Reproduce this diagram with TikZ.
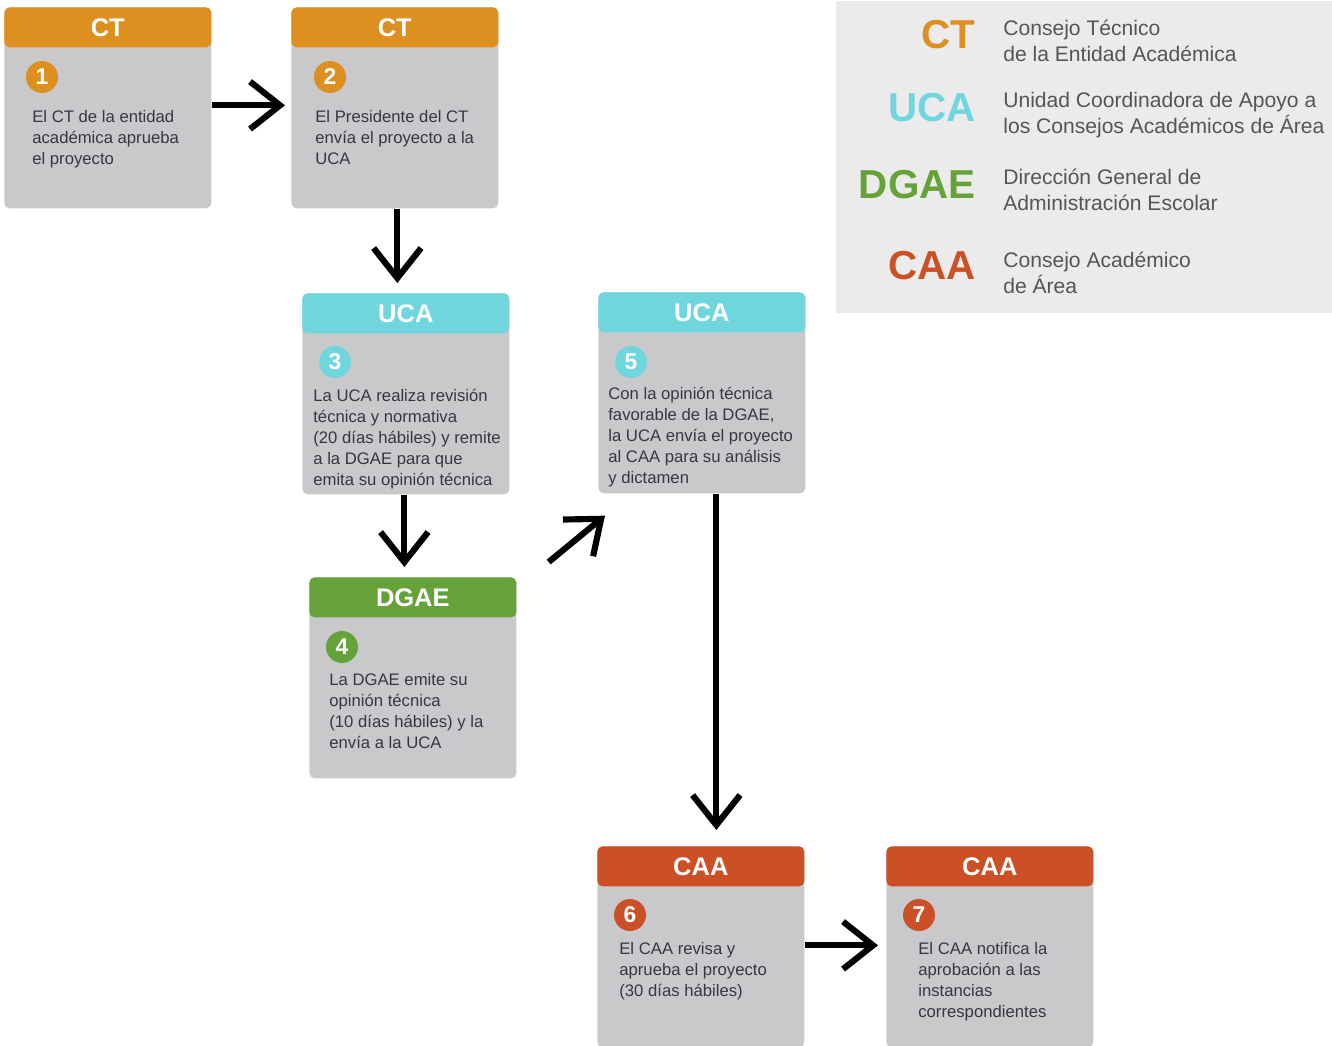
\documentclass[tikz,border=0pt]{standalone}
\usepackage{fontspec}
\setmainfont{Liberation Sans}
\usetikzlibrary{arrows.meta, positioning, calc}
\definecolor{CTOrange}{HTML}{DD8F1F}
\definecolor{UCACyan}{HTML}{6FD6DE}
\definecolor{DGAEGreen}{HTML}{66A23A}
\definecolor{CAARed}{HTML}{CB5026}
\definecolor{BoxGrey}{HTML}{C9C9CC}
\definecolor{TextDark}{HTML}{3A3440}
\definecolor{LegendGrey}{HTML}{EBEBEB}
\definecolor{LegendText}{HTML}{555555}

\begin{document}
\begin{tikzpicture}[
  x=0.02cm, y=-0.02cm,
  stepbox/.style={
    rectangle, rounded corners=3pt, fill=BoxGrey,
    minimum width=4.14cm, minimum height=4.02cm,
    inner sep=0pt, anchor=north west
  },
  header/.style={
    rectangle, rounded corners=3pt, fill=#1,
    minimum width=4.14cm, minimum height=0.8cm, inner sep=0pt,
    anchor=north, text=white, font=\fontsize{14.5}{14.5}\selectfont\bfseries
  },
  badge/.style={circle, fill=#1, minimum size=0.64cm, inner sep=0pt,
    text=white, font=\fontsize{13}{13}\selectfont\bfseries},
  steptext/.style={anchor=north west, inner sep=0pt, align=left,
    text=TextDark, font=\fontsize{9.5}{11.9}\selectfont},
  arrow/.style={-{Straight Barb[length=0.6cm, width=0.95cm]}, line width=3.5pt},
  abbr/.style={anchor=east, inner sep=0pt, text=#1,
    font=\fontsize{23}{23}\selectfont\bfseries},
  legend/.style={anchor=west, inner sep=0pt, align=left,
    text=LegendText, font=\fontsize{12}{14.7}\selectfont},
]
\useasboundingbox (0,0) rectangle (1332,1045);

% legend
\fill[LegendGrey] (836,1) rectangle (1332,313);
\node[abbr=CTOrange] (lct) at (976,35) {CT};
\node[legend] (lctd) at (1003,41) {Consejo Técnico\\de la Entidad Académica};
\node[abbr=UCACyan] (luca) at (976,108) {UCA};
\node[legend] (lucad) at (1003,115) {Unidad Coordinadora de Apoyo a\\los Consejos Académicos de Área};
\node[abbr=DGAEGreen] (ldgae) at (976,185) {DGAE};
\node[legend] (ldgaed) at (1003,190) {Dirección General de\\Administración Escolar};
\node[abbr=CAARed] (lcaa) at (976,266) {CAA};
\node[legend] (lcaad) at (1003,273) {Consejo Académico\\de Área};

% steps
\node[stepbox] (ct1) at (4,7) {};
\node[header=CTOrange] (ct1h) at (ct1.north) {CT};
\node[badge=CTOrange] (ct1n) at ([shift={(38,70)}]ct1.north west) {1};
\node[steptext] (ct1t) at ([shift={(28,103)}]ct1.north west) {El CT de la entidad\\académica aprueba\\el proyecto};

\node[stepbox] (ct2) at (291,7) {};
\node[header=CTOrange] (ct2h) at (ct2.north) {CT};
\node[badge=CTOrange] (ct2n) at ([shift={(39,70)}]ct2.north west) {2};
\node[steptext] (ct2t) at ([shift={(24,103)}]ct2.north west) {El Presidente del CT\\envía el proyecto a la\\UCA};

\node[stepbox] (uca3) at (302,293) {};
\node[header=UCACyan] (uca3h) at (uca3.north) {UCA};
\node[badge=UCACyan] (uca3n) at ([shift={(33,69)}]uca3.north west) {3};
\node[steptext] (uca3t) at ([shift={(11,96)}]uca3.north west) {La UCA realiza revisión\\técnica y normativa\\(20 días hábiles) y remite\\a la DGAE para que\\emita su opinión técnica};

\node[stepbox] (dgae4) at (309,577) {};
\node[header=DGAEGreen] (dgae4h) at (dgae4.north) {DGAE};
\node[badge=DGAEGreen] (dgae4n) at ([shift={(33,70)}]dgae4.north west) {4};
\node[steptext] (dgae4t) at ([shift={(20,96)}]dgae4.north west) {La DGAE emite su\\opinión técnica\\(10 días hábiles) y la\\envía a la UCA};

\node[stepbox] (uca5) at (598,292) {};
\node[header=UCACyan] (uca5h) at (uca5.north) {UCA};
\node[badge=UCACyan] (uca5n) at ([shift={(33,70)}]uca5.north west) {5};
\node[steptext] (uca5t) at ([shift={(10,95)}]uca5.north west) {Con la opinión técnica\\favorable de la DGAE,\\la UCA envía el proyecto\\al CAA para su análisis\\y dictamen};

\node[stepbox] (caa6) at (597,846) {};
\node[header=CAARed] (caa6h) at (caa6.north) {CAA};
\node[badge=CAARed] (caa6n) at ([shift={(33,69)}]caa6.north west) {6};
\node[steptext] (caa6t) at ([shift={(22,96)}]caa6.north west) {El CAA revisa y\\aprueba el proyecto\\(30 días hábiles)};

\node[stepbox] (caa7) at (886,846) {};
\node[header=CAARed] (caa7h) at (caa7.north) {CAA};
\node[badge=CAARed] (caa7n) at ([shift={(33,69)}]caa7.north west) {7};
\node[steptext] (caa7t) at ([shift={(32,96)}]caa7.north west) {El CAA notifica la\\aprobación a las\\instancias\\correspondientes};

% arrows
\coordinate (d4out) at ([shift={(32,-15)}]dgae4.north east);
\coordinate (u5in) at ([shift={(7,22)}]uca5.south west);
\coordinate (u5down) at ([xshift=0.29cm]uca5.south);

\draw[arrow, shorten >=0.12cm] ([yshift=0.05cm]ct1.east) -- ([yshift=0.05cm]ct2.west);
\draw[arrow, shorten >=0.2cm] ([xshift=0.05cm]ct2.south) -- ([xshift=0.05cm]ct2.south |- uca3.north);
\draw[arrow, shorten >=0.2cm] ([xshift=-0.03cm]uca3.south) -- ([xshift=-0.03cm]uca3.south |- dgae4.north);
\draw[arrow] (d4out) -- (u5in);
\draw[arrow, shorten >=0.32cm] (u5down) -- (u5down |- caa6.north);
\draw[arrow, shorten >=0.16cm] ([yshift=0.03cm]caa6.east) -- ([yshift=0.03cm]caa7.west);
\end{tikzpicture}
\end{document}
